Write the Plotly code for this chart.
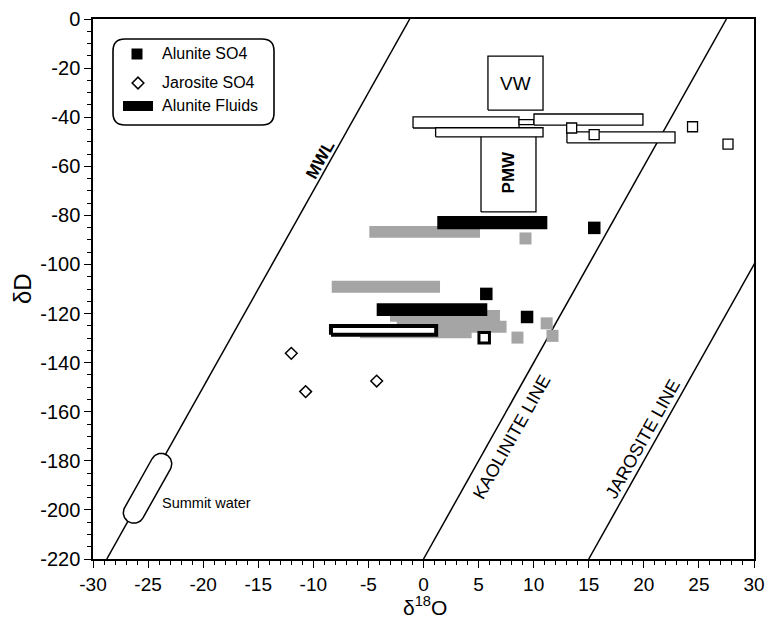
import math
import plotly.graph_objects as go

# ---------------- data ----------------
x_ticks = [-30, -25, -20, -15, -10, -5, 0, 5, 10, 15, 20, 25, 30]
x_tick_labels = ["-30", "-25", "-20", "-15", "-10", "-5", "0", "5", "10", "15", "20", "25", "30"]
y_ticks = [0, -20, -40, -60, -80, -100, -120, -140, -160, -180, -200, -220]
y_tick_labels = ["0", "-20", "-40", "-60", "-80", "-100", "-120", "-140", "-160", "-180", "-200", "-220"]

# reference lines  dD = slope * d18O + intercept
line_names = ["MWL", "KAOLINITE LINE", "JAROSITE LINE"]
line_slopes = [8.0, 8.0, 8.0]
line_intercepts = [10.0, -220.0, -340.0]

# Alunite SO4 (filled black squares)
alunite_so4_x = [15.5, 5.7, 9.4]
alunite_so4_y = [-85.1, -112.0, -121.4]

# Jarosite SO4 (open diamonds)
jarosite_so4_x = [-12.0, -10.7, -4.25]
jarosite_so4_y = [-136.2, -151.8, -147.5]

# grey squares
grey_sq_x = [9.26, 11.18, 8.53, 11.71]
grey_sq_y = [-89.4, -124.0, -129.8, -129.1]

# thin open squares
open_sq_x = [13.45, 15.49, 24.42, 27.64]
open_sq_y = [-44.4, -47.1, -43.9, -51.0]

# thick open square
thick_sq_x = [5.51]
thick_sq_y = [-129.9]

# Alunite fluids (black bars): d18O range, dD range
fluid_x0 = [1.25, -4.25]
fluid_x1 = [11.24, 5.79]
fluid_y0 = [-85.7, -121.0]
fluid_y1 = [-80.3, -115.8]

# grey bars
grey_x0 = [-4.92, -8.33, -3.04, -2.43, -5.77]
grey_x1 = [5.13, 1.50, 6.94, 7.54, 4.37]
grey_y0 = [-89.1, -111.5, -123.3, -127.8, -130.1]
grey_y1 = [-84.3, -106.6, -118.6, -122.9, -127.4]

# thick-outlined open bar
thick_bar_x0 = [-8.4]
thick_bar_x1 = [1.15]
thick_bar_y0 = [-128.6]
thick_bar_y1 = [-125.1]

# thin-outlined open bars (water compositions)
open_bar_x0 = [-0.95, 1.1, 8.67, 10.03, 13.02]
open_bar_x1 = [8.67, 10.85, 10.03, 19.92, 22.83]
open_bar_y0 = [-44.4, -48.0, -43.0, -43.2, -50.5]
open_bar_y1 = [-39.9, -44.3, -41.0, -38.7, -46.0]

# labelled fields
field_names = ["PMW", "VW"]
field_x0 = [5.22, 5.85]
field_x1 = [10.21, 10.85]
field_y0 = [-78.6, -37.1]
field_y1 = [-46.0, -15.1]

summit_water_center = (-25.05, -191.2)

legend_labels = ["Alunite SO4", "Jarosite SO4", "Alunite Fluids"]

# ---------------- geometry helpers ----------------
W, H = 768, 619
ML, MR, MT, MB = 93, 14, 19, 60
PW, PH = W - ML - MR, H - MT - MB
XR = (-30, 30)
YR = (-220, 0)
FONT = "Liberation Sans, Arial, sans-serif"

def px2x(px):
    return XR[0] + (px - ML) / PW * (XR[1] - XR[0])

def py2y(py):
    return YR[1] - (py - MT) / PH * (YR[1] - YR[0])

def x2px(x):
    return ML + (x - XR[0]) / (XR[1] - XR[0]) * PW

def y2py(y):
    return MT + (YR[1] - y) / (YR[1] - YR[0]) * PH

def px2paper(px):
    return (px - ML) / PW

def py2paper(py):
    return 1 - (py - MT) / PH

fig = go.Figure()

def add_rect(x0, x1, y0, y1, fill, lc, lw):
    fig.add_trace(go.Scatter(
        x=[x0, x1, x1, x0, x0], y=[y0, y0, y1, y1, y0],
        mode="lines", fill="toself", fillcolor=fill,
        line=dict(color=lc, width=lw), hoverinfo="skip", showlegend=False))

# reference lines
for m, b in zip(line_slopes, line_intercepts):
    ys = [YR[0], YR[1]]
    xs = [(y - b) / m for y in ys]
    fig.add_trace(go.Scatter(x=xs, y=ys, mode="lines",
                             line=dict(color="black", width=1.5),
                             hoverinfo="skip", showlegend=False))

# summit water stadium (white filled, on the MWL)
ang = math.atan2(line_slopes[0] * PH / (YR[1] - YR[0]), PW / (XR[1] - XR[0]))
ux, uy = math.cos(ang), -math.sin(ang)      # screen direction along line (up-right)
nx, ny = math.sin(ang), math.cos(ang)       # screen normal (down-right)
cpx, cpy = x2px(summit_water_center[0]), y2py(summit_water_center[1])
half_len, rad = 28.0, 10.5
sx, sy = [], []
for k in range(0, 37):
    t = math.radians(-90 + 5 * k)
    px = cpx + half_len * ux + rad * (math.cos(t) * ux + math.sin(t) * nx)
    py = cpy + half_len * uy + rad * (math.cos(t) * uy + math.sin(t) * ny)
    sx.append(px2x(px)); sy.append(py2y(py))
for k in range(0, 37):
    t = math.radians(90 + 5 * k)
    px = cpx - half_len * ux + rad * (math.cos(t) * ux + math.sin(t) * nx)
    py = cpy - half_len * uy + rad * (math.cos(t) * uy + math.sin(t) * ny)
    sx.append(px2x(px)); sy.append(py2y(py))
sx.append(sx[0]); sy.append(sy[0])
fig.add_trace(go.Scatter(x=sx, y=sy, mode="lines", fill="toself", fillcolor="white",
                         line=dict(color="black", width=1.5), hoverinfo="skip", showlegend=False))

GREY = "#a5a5a5"
for a, b2, c, d in zip(grey_x0, grey_x1, grey_y0, grey_y1):
    add_rect(a, b2, c, d, GREY, GREY, 0)
for a, b2, c, d in zip(fluid_x0, fluid_x1, fluid_y0, fluid_y1):
    add_rect(a, b2, c, d, "black", "black", 0)
for a, b2, c, d in zip(thick_bar_x0, thick_bar_x1, thick_bar_y0, thick_bar_y1):
    add_rect(a, b2, c, d, "white", "black", 4)
for a, b2, c, d in zip(field_x0, field_x1, field_y0, field_y1):
    add_rect(a, b2, c, d, "white", "black", 1.3)
for a, b2, c, d in zip(open_bar_x0, open_bar_x1, open_bar_y0, open_bar_y1):
    add_rect(a, b2, c, d, "white", "black", 1.3)

# markers
fig.add_trace(go.Scatter(x=grey_sq_x, y=grey_sq_y, mode="markers",
                         marker=dict(symbol="square", size=12, color=GREY, line=dict(width=0)),
                         hoverinfo="skip", showlegend=False))
fig.add_trace(go.Scatter(x=open_sq_x, y=open_sq_y, mode="markers",
                         marker=dict(symbol="square", size=10, color="white",
                                     line=dict(color="black", width=1.3)),
                         hoverinfo="skip", showlegend=False))
fig.add_trace(go.Scatter(x=thick_sq_x, y=thick_sq_y, mode="markers",
                         marker=dict(symbol="square", size=10.5, color="white",
                                     line=dict(color="black", width=3)),
                         hoverinfo="skip", showlegend=False))
fig.add_trace(go.Scatter(x=alunite_so4_x, y=alunite_so4_y, mode="markers",
                         marker=dict(symbol="square", size=12.5, color="black", line=dict(width=0)),
                         hoverinfo="skip", showlegend=False))
fig.add_trace(go.Scatter(x=jarosite_so4_x, y=jarosite_so4_y, mode="markers",
                         marker=dict(symbol="diamond", size=9, color="white",
                                     line=dict(color="black", width=1.5)),
                         hoverinfo="skip", showlegend=False))

annotations = []
shapes = []

# line labels: (dD position along the line, perpendicular offset in px, bold)
deg = math.degrees(ang)
label_specs = [(-59.1, -9, True), (-166.8, 17, False), (-173.5, -11, False)]
for name, m, b, (yl, d, bold) in zip(line_names, line_slopes, line_intercepts, label_specs):
    xl = (yl - b) / m
    annotations.append(dict(
        x=xl, y=yl, xref="x", yref="y", text=("<b>%s</b>" % name) if bold else name,
        showarrow=False, textangle=-deg, xanchor="center", yanchor="middle",
        xshift=nx * d, yshift=-ny * d,
        font=dict(family=FONT, size=17 if bold else 18, color="black")))

# field labels
for name, a, b2, c, d in zip(field_names, field_x0, field_x1, field_y0, field_y1):
    is_pmw = name == "PMW"
    annotations.append(dict(
        x=(a + b2) / 2, y=(c + d) / 2, xref="x", yref="y",
        text="<b>%s</b>" % name if is_pmw else name, showarrow=False,
        textangle=-90 if is_pmw else 0, xanchor="center", yanchor="middle",
        font=dict(family=FONT, size=17 if is_pmw else 19, color="black")))

annotations.append(dict(x=px2x(160), y=py2y(503), xref="x", yref="y", text="Summit water",
                        showarrow=False, xanchor="left", yanchor="middle",
                        font=dict(family=FONT, size=14.5, color="black")))

# axis titles
annotations.append(dict(x=px2paper(425), y=py2paper(606), xref="paper", yref="paper",
                        text="δ<sup>18</sup>O", showarrow=False, xanchor="center", yanchor="middle",
                        font=dict(family=FONT, size=21, color="black")))
annotations.append(dict(x=px2paper(22), y=py2paper(289), xref="paper", yref="paper",
                        text="δD", showarrow=False, textangle=-90, xanchor="center", yanchor="middle",
                        font=dict(family=FONT, size=24, color="black")))

# ---------- legend (manual) ----------
bx0, bx1, by0, by1, r = 113, 274, 39, 125, 12
def P(px, py):
    return "%f,%f" % (px2paper(px), py2paper(py))
path = ("M " + P(bx0 + r, by0) + " L " + P(bx1 - r, by0) +
        " Q " + P(bx1, by0) + " " + P(bx1, by0 + r) +
        " L " + P(bx1, by1 - r) + " Q " + P(bx1, by1) + " " + P(bx1 - r, by1) +
        " L " + P(bx0 + r, by1) + " Q " + P(bx0, by1) + " " + P(bx0, by1 - r) +
        " L " + P(bx0, by0 + r) + " Q " + P(bx0, by0) + " " + P(bx0 + r, by0) + " Z")
shapes.append(dict(type="path", path=path, xref="paper", yref="paper",
                   line=dict(color="black", width=1.6), fillcolor="rgba(0,0,0,0)", layer="above"))
shapes.append(dict(type="rect", xref="paper", yref="paper",
                   x0=px2paper(123), x1=px2paper(153), y0=py2paper(111), y1=py2paper(101),
                   fillcolor="black", line=dict(width=0), layer="above"))
fig.add_trace(go.Scatter(x=[px2x(137)], y=[py2y(54)], mode="markers",
                         marker=dict(symbol="square", size=11, color="black", line=dict(width=0)),
                         hoverinfo="skip", showlegend=False))
fig.add_trace(go.Scatter(x=[px2x(138)], y=[py2y(83)], mode="markers",
                         marker=dict(symbol="diamond", size=9, color="white",
                                     line=dict(color="black", width=1.5)),
                         hoverinfo="skip", showlegend=False))
for lab, yy in zip(legend_labels, [54, 83, 106]):
    annotations.append(dict(x=px2paper(160), y=py2paper(yy), xref="paper", yref="paper",
                            text=lab, showarrow=False, xanchor="left", yanchor="middle",
                            font=dict(family=FONT, size=16, color="black")))

axis_common = dict(showline=True, linecolor="black", linewidth=1.5, mirror=True,
                   showgrid=False, zeroline=False, ticks="outside", ticklen=7,
                   tickwidth=1.3, tickcolor="black", tickmode="array", automargin=False)

fig.update_xaxes(range=list(XR), tickvals=x_ticks, ticktext=x_tick_labels,
                 tickfont=dict(family=FONT, size=19, color="black"),
                 minor=dict(tickmode="linear", tick0=-30, dtick=1, ticks="outside",
                            ticklen=4, tickwidth=1, tickcolor="black", showgrid=False),
                 **axis_common)
fig.update_yaxes(range=list(YR), tickvals=y_ticks, ticktext=y_tick_labels,
                 tickfont=dict(family=FONT, size=20, color="black"),
                 minor=dict(tickmode="linear", tick0=-220, dtick=5, ticks="outside",
                            ticklen=4, tickwidth=1, tickcolor="black", showgrid=False),
                 **axis_common)

fig.update_layout(width=W, height=H,
                  margin=dict(l=ML, r=MR, t=MT, b=MB, pad=0, autoexpand=False),
                  paper_bgcolor="white", plot_bgcolor="white", showlegend=False,
                  annotations=annotations, shapes=shapes,
                  font=dict(family=FONT, color="black"))

fig.write_html("out.html")
